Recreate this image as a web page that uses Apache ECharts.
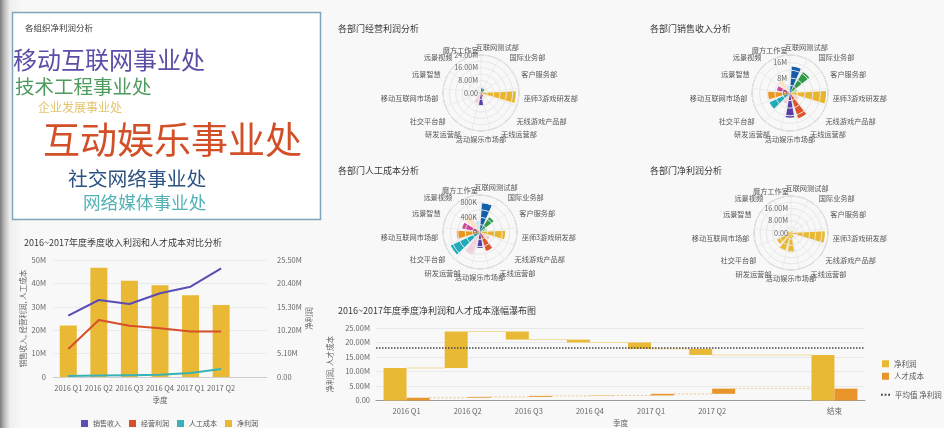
<!DOCTYPE html>
<html>
<head>
<meta charset="utf-8">
<title>经营分析看板</title>
<script src="https://cdn.jsdelivr.net/npm/echarts@6.0.0/dist/echarts.min.js"></script>
<style>
  html, body { margin: 0; padding: 0; }
  body {
    width: 944px; height: 428px; overflow: hidden;
    background: linear-gradient(90deg, #7e7e7e 0, #c2c2c2 5px, #efefef 10px, #f8f8f8 22px);
  }
  #main { width: 944px; height: 428px; }
</style>
</head>
<body>
<div id="main"></div>
<script>
// ---- data (millions unless noted) ----
const quarters = ['2016 Q1', '2016 Q2', '2016 Q3', '2016 Q4', '2017 Q1', '2017 Q2'];
const sales = [26.2, 32.9, 31.2, 35.8, 38.6, 46.4];
const opProfit = [12.0, 24.4, 21.9, 20.8, 19.4, 19.4];
const laborCost = [0.4, 0.6, 0.8, 1.0, 1.7, 3.4];
const netProfit = [11.2, 23.8, 21.0, 20.0, 17.8, 15.7];
const talentCost = [0.95, 1.25, 1.6, 1.75, 2.3, 4.1];

const orgNames = ['移动互联网事业处', '技术工程事业处', '企业发展事业处', '互动娱乐事业处', '社交网络事业处', '网络媒体事业处'];
const orgProfit = [23.3, 16.8, 6.0, 42.0, 17.2, 14.1];

const depts = ['互联网测试部', '国际业务部', '客户服务部', '巫师3游戏研发部', '无线游戏产品部', '无线运营部',
  '活动娱乐市场部', '研发运营部', '社交平台部', '移动互联网市场部', '远景智慧', '远景视频', '魔方工作室'];
const deptOpProfit = [3, 3, 2, 22, 1, 2.5, 8, 7, 1, 0.5, 1, 0.5, 0.5];
const deptSales = [14, 13, 4, 19, 5, 14, 13, 6, 12, 11.5, 7, 8, 4];
const deptLabor = [780, 470, 200, 680, 300, 540, 430, 650, 870, 630, 490, 500, 300]; // K
const deptNet = [1, 1.5, 1, 22, 1.5, 3, 12.5, 12, 10, 2.5, 2, 1, 1];

// ---- styles / layout ----
const FONT = '"Noto Sans CJK SC", "Noto Sans", sans-serif';
const C_SALES = '#5b4db3', C_OP = '#d5502b', C_LABOR = '#37b3b7', C_NET = '#e9b935', C_TALENT = '#e8962c';
const cloudColors = ['#5b4ea6', '#4f9a5f', '#e2c46c', '#d24f27', '#2c5282', '#52b2b6'];
const cloudSpots = [[13, 60], [15, 87], [38, 107], [43, 140], [68, 178], [83, 202]];
const deptColors = ['#135ea8', '#2f9a48', '#a8dca0', '#e9b52f', '#f8cfc4', '#e0542b', '#5a3fa6',
  '#f1d0dc', '#1fabb8', '#eb961f', '#cf4596', '#fde0bf', '#c6e5f1'];
const netColors = depts.map(() => C_NET);

const minP = Math.min(...orgProfit), maxP = Math.max(...orgProfit);
const cloudText = orgNames.map((name, i) => ({
  type: 'text', x: cloudSpots[i][0], y: cloudSpots[i][1], z: 5,
  style: {
    text: name, fill: cloudColors[i], fontFamily: FONT, verticalAlign: 'middle',
    fontSize: 12 + (orgProfit[i] - minP) / (maxP - minP) * 25
  }
}));

// the two labels either side of the top get side alignment so they don't collide
const LAST = depts.length - 1;
const angleData = depts.map((d, i) => {
  if (i === 0) return { value: d, textStyle: { align: 'left' } };
  if (i === LAST) return { value: d, textStyle: { align: 'right' } };
  return d;
});
const angleLabel = (v, i) => i === 0 ? '{l|' + v + '}' : (i === LAST ? '{r|' + v + '}' : v);

function angleAx(i) {
  return {
    polarIndex: i, type: 'category', data: angleData, startAngle: 90, clockwise: true,
    axisLine: { lineStyle: { color: '#b3b3b3', width: 1 } },
    axisTick: { show: false },
    axisLabel: {
      interval: 0, fontSize: 7.2, color: '#555', margin: 5, formatter: angleLabel,
      rich: {
        l: { fontSize: 7.2, color: '#555', padding: [0, 0, 0, 12] },
        r: { fontSize: 7.2, color: '#555', padding: [0, 20, 0, 0], lineHeight: 1 }
      }
    },
    splitLine: { show: true, lineStyle: { color: '#ebebeb' } }
  };
}
function radiusAx(i, max, interval, fmt) {
  return {
    polarIndex: i, type: 'value', min: 0, max: max, interval: interval,
    axisLine: { show: false }, axisTick: { show: false },
    axisLabel: { fontSize: 7.2, color: '#666', margin: 3, formatter: fmt },
    splitLine: { lineStyle: { color: '#e6e6e6' } }, z: 10
  };
}
function polarBars(i, name, values, colors) {
  return {
    type: 'bar', coordinateSystem: 'polar', polarIndex: i, name: name, data: values,
    barCategoryGap: '28%',
    itemStyle: { color: p => colors[p.dataIndex] }
  };
}
const fmtM2 = lim => v => v === 0 ? '0.00' : (v % 8 === 0 && v <= lim ? v.toFixed(2) + 'M' : '');

// waterfall pieces
function waterfall(vals) {
  const base = [], delta = [];
  let prev = 0;
  vals.forEach(v => { base.push(Math.min(prev, v)); delta.push(+Math.abs(v - prev).toFixed(3)); prev = v; });
  base.push('-'); delta.push('-');
  base.push(0); delta.push(prev);
  return { base, delta };
}
function connectors(vals) {
  const out = [];
  for (let i = 1; i < vals.length; i++) out.push([i - 1, i, vals[i - 1]]);
  out.push([vals.length - 1, vals.length + 1, vals[vals.length - 1]]);
  return out;
}
const wfCats = quarters.concat(['', '结束']);
const wfNet = waterfall(netProfit);
const wfTalent = waterfall(talentCost);
const netAvg = netProfit.reduce((a, b) => a + b, 0) / netProfit.length;
const WF_BAR = 23;

function connSeries(vals, side, color, dash) {
  return {
    type: 'custom', name: 'conn', xAxisIndex: 1, yAxisIndex: 2, silent: true, z: 1,
    data: connectors(vals), encode: { x: [0, 1], y: 2 },
    renderItem: (params, api) => {
      const a = api.coord([api.value(0), api.value(2)]);
      const b = api.coord([api.value(1), api.value(2)]);
      return {
        type: 'line',
        shape: { x1: a[0] + (side ? WF_BAR : 0), y1: a[1], x2: b[0] - (side ? 0 : WF_BAR), y2: b[1] },
        style: { stroke: color, lineWidth: 1, lineDash: dash }
      };
    }
  };
}

const titleStyle = { fontSize: 9, color: '#3a3a3a', fontWeight: 'normal', fontFamily: FONT };
const axisLabelStyle = { fontSize: 7.5, color: '#666' };
const axisNameStyle = { fontSize: 7.5, color: '#666' };

const option = {
  animation: false,
  textStyle: { fontFamily: FONT },
  title: [
    { text: '各组织净利润分析', left: 20, top: 19, textStyle: Object.assign({}, titleStyle, { fontSize: 8.5 }) },
    { text: '2016~2017年度季度收入利润和人才成本对比分析', left: 19, top: 233, textStyle: titleStyle },
    { text: '各部门经营利润分析', left: 333, top: 19, textStyle: titleStyle },
    { text: '各部门销售收入分析', left: 645, top: 19, textStyle: titleStyle },
    { text: '各部门人工成本分析', left: 333, top: 161, textStyle: titleStyle },
    { text: '各部门净利润分析', left: 645, top: 161, textStyle: titleStyle },
    { text: '2016~2017年度季度净利润和人才成本涨幅瀑布图', left: 333, top: 301, textStyle: titleStyle }
  ],
  legend: [
    {
      data: ['销售收入', '经营利润', '人工成本', '净利润'], left: 76, top: 415,
      icon: 'rect', itemWidth: 7, itemHeight: 7, itemGap: 8,
      textStyle: { fontSize: 7, color: '#555' }
    },
    {
      data: ['净利润', '人才成本'], orient: 'vertical', left: 877, top: 355,
      icon: 'rect', itemWidth: 7, itemHeight: 7, itemGap: 5,
      textStyle: { fontSize: 7.5, color: '#555' }
    },
    {
      data: ['平均值 净利润'], orient: 'vertical', left: 876, top: 386,
      icon: 'path://M0,0h2v2h-2z M4,0h2v2h-2z M8,0h2v2h-2z',
      itemWidth: 9, itemHeight: 2, textStyle: { fontSize: 7.5, color: '#555' }
    }
  ],
  graphic: [
    {
      type: 'rect', z: 0, shape: { x: 12.5, y: 12.5, width: 308, height: 207 },
      style: { fill: '#ffffff', stroke: '#7fa5ba', lineWidth: 1.5 }
    }
  ].concat(cloudText),
  grid: [
    { left: 53, top: 260, width: 214, height: 117 },
    { left: 376, top: 328, width: 489, height: 73 }
  ],
  xAxis: [
    {
      gridIndex: 0, type: 'category', data: quarters.concat(['']),
      axisLine: { lineStyle: { color: '#cfcfcf' } }, axisTick: { show: false },
      axisLabel: Object.assign({ margin: 7, interval: 0 }, axisLabelStyle),
      name: '季度', nameLocation: 'middle', nameGap: 19, nameTextStyle: axisNameStyle
    },
    {
      gridIndex: 1, type: 'category', data: wfCats,
      axisLine: { lineStyle: { color: '#999' } }, axisTick: { show: false },
      axisLabel: Object.assign({ margin: 7, interval: 0 }, axisLabelStyle),
      name: '季度', nameLocation: 'middle', nameGap: 19, nameTextStyle: axisNameStyle
    }
  ],
  yAxis: [
    {
      gridIndex: 0, type: 'value', min: 0, max: 50, interval: 10,
      axisLabel: Object.assign({ formatter: v => v === 0 ? '0' : v + 'M', margin: 7 }, axisLabelStyle),
      splitLine: { lineStyle: { color: '#e9e9e9' } },
      name: '销售收入, 经营利润, 人工成本', nameLocation: 'middle', nameGap: 26, nameTextStyle: axisNameStyle
    },
    {
      gridIndex: 0, type: 'value', position: 'right', min: 0, max: 25.5, interval: 5.1,
      axisLabel: Object.assign({ formatter: v => v.toFixed(2) + (v === 0 ? '' : 'M'), margin: 10 }, axisLabelStyle),
      splitLine: { show: false },
      name: '净利润', nameLocation: 'middle', nameGap: 37, nameTextStyle: axisNameStyle
    },
    {
      gridIndex: 1, type: 'value', min: 0, max: 25, interval: 5,
      axisLabel: Object.assign({ formatter: v => v.toFixed(2) + (v === 0 ? '' : 'M'), margin: 6 }, axisLabelStyle),
      splitLine: { lineStyle: { color: '#e9e9e9' } },
      name: '净利润, 人才成本', nameLocation: 'middle', nameGap: 34, nameTextStyle: axisNameStyle
    }
  ],
  polar: [
    { center: [481, 93], radius: 38 },
    { center: [790, 93], radius: 38 },
    { center: [480, 232], radius: 37 },
    { center: [791, 233], radius: 37 }
  ],
  angleAxis: [angleAx(0), angleAx(1), angleAx(2), angleAx(3)],
  radiusAxis: [
    radiusAx(0, 24, 4, fmtM2(24)),
    radiusAx(1, 20, 4, v => v === 0 ? '0' : (v % 8 === 0 ? v + 'M' : '')),
    radiusAx(2, 1000, 200, v => v === 0 ? '0' : (v % 400 === 0 ? v + 'K' : '')),
    radiusAx(3, 24, 4, fmtM2(16))
  ],
  series: [
    // quarterly comparison
    { type: 'bar', name: '净利润', xAxisIndex: 0, yAxisIndex: 1, data: netProfit, barWidth: 17, itemStyle: { color: C_NET } },
    { type: 'line', name: '销售收入', xAxisIndex: 0, yAxisIndex: 0, data: sales, showSymbol: false, lineStyle: { width: 2, color: C_SALES }, itemStyle: { color: C_SALES } },
    { type: 'line', name: '经营利润', xAxisIndex: 0, yAxisIndex: 0, data: opProfit, showSymbol: false, lineStyle: { width: 2, color: C_OP }, itemStyle: { color: C_OP } },
    { type: 'line', name: '人工成本', xAxisIndex: 0, yAxisIndex: 0, data: laborCost, showSymbol: false, lineStyle: { width: 2, color: C_LABOR }, itemStyle: { color: C_LABOR } },

    // department roses
    polarBars(0, '经营利润(部门)', deptOpProfit, deptColors),
    polarBars(1, '销售收入(部门)', deptSales, deptColors),
    polarBars(2, '人工成本(部门)', deptLabor, deptColors),
    polarBars(3, '净利润(部门)', deptNet, netColors),

    // waterfall
    connSeries(netProfit, 0, '#f1dc9c', null),
    connSeries(talentCost, 1, '#efc48c', [2, 2]),
    { type: 'bar', name: 'netBase', xAxisIndex: 1, yAxisIndex: 2, stack: 'net', data: wfNet.base, barWidth: WF_BAR, barGap: '0%', itemStyle: { color: 'transparent' }, silent: true },
    {
      type: 'bar', name: '净利润', xAxisIndex: 1, yAxisIndex: 2, stack: 'net', data: wfNet.delta, barWidth: WF_BAR, barGap: '0%',
      itemStyle: { color: C_NET },
      markLine: {
        silent: true, symbol: 'none', label: { show: false },
        lineStyle: { type: [1.5, 1.5], color: '#444', width: 1.5 },
        data: [{ yAxis: netAvg }]
      }
    },
    { type: 'bar', name: 'talentBase', xAxisIndex: 1, yAxisIndex: 2, stack: 'talent', data: wfTalent.base, barWidth: WF_BAR, barGap: '0%', itemStyle: { color: 'transparent' }, silent: true },
    { type: 'bar', name: '人才成本', xAxisIndex: 1, yAxisIndex: 2, stack: 'talent', data: wfTalent.delta, barWidth: WF_BAR, barGap: '0%', itemStyle: { color: C_TALENT } },
    {
      type: 'line', name: '平均值 净利润', xAxisIndex: 1, yAxisIndex: 2, data: [], symbol: 'none',
      lineStyle: { type: [1.5, 1.5], color: '#444', width: 1.5 }, itemStyle: { color: '#444' }
    }
  ]
};

const chart = echarts.init(document.getElementById('main'), null, { renderer: 'canvas' });
chart.setOption(option);
</script>
</body>
</html>
